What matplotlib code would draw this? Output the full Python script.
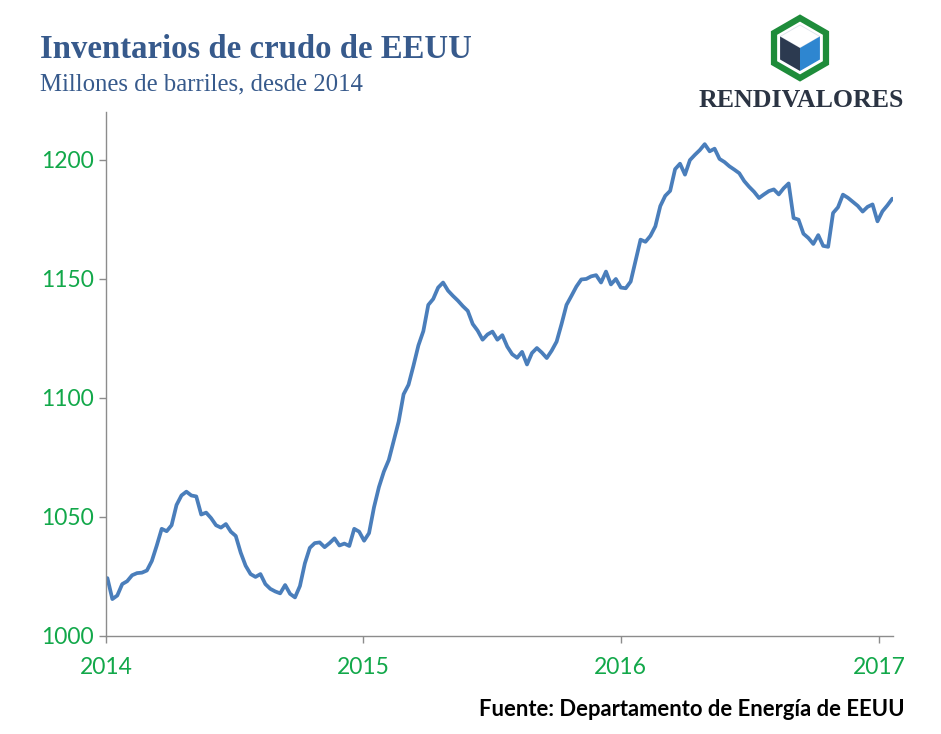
import matplotlib
matplotlib.use("Agg")
import matplotlib.pyplot as plt
from matplotlib.patches import Polygon, RegularPolygon
import numpy as np
import pandas as pd

# Weekly US crude oil inventories (million barrels)
start_date = "2014-01-03"
inventories = [
    1024.3, 1015.5, 1017.0, 1021.8, 1023.0, 1025.5, 1026.4, 1026.6, 1027.5, 1031.5,
    1038.0, 1045.0, 1044.0, 1046.5, 1055.0, 1059.0, 1060.6, 1059.0, 1058.6, 1051.0,
    1051.8, 1049.5, 1046.5, 1045.5, 1047.0, 1043.8, 1042.0, 1035.0, 1029.5, 1026.0,
    1024.8, 1026.0, 1021.8, 1019.8, 1018.7, 1017.9, 1021.4, 1017.7, 1016.2, 1021.0,
    1030.5, 1037.0, 1039.0, 1039.3, 1037.3, 1039.0, 1041.0, 1038.0, 1038.8, 1037.8,
    1045.0, 1043.8, 1040.0, 1043.2, 1054.0, 1062.5, 1069.0, 1073.9, 1082.0, 1090.0,
    1101.5, 1105.5, 1113.5, 1122.0, 1128.0, 1139.0, 1141.5, 1146.3, 1148.4, 1145.0,
    1142.8, 1140.8, 1138.5, 1136.5, 1131.0, 1128.2, 1124.4, 1126.6, 1127.8, 1124.4,
    1126.3, 1121.5, 1118.3, 1116.8, 1119.3, 1114.0, 1118.8, 1120.9, 1119.0, 1116.7,
    1119.8, 1123.6, 1131.0, 1139.0, 1142.8, 1146.7, 1149.7, 1149.9, 1151.0, 1151.5,
    1148.4, 1153.0, 1147.6, 1149.9, 1146.3, 1146.0, 1148.8, 1157.5, 1166.4, 1165.5,
    1168.0, 1172.0, 1180.5, 1184.8, 1186.9, 1196.0, 1198.3, 1193.7, 1199.8, 1202.0,
    1204.0, 1206.5, 1203.5, 1204.6, 1200.3, 1199.0, 1197.2, 1195.8, 1194.3, 1191.0,
    1188.6, 1186.5, 1183.9, 1185.4, 1186.8, 1187.5, 1185.4, 1188.0, 1190.0, 1175.5,
    1174.8, 1168.9, 1167.1, 1164.6, 1168.3, 1163.8, 1163.4, 1177.6, 1180.0, 1185.3,
    1184.0, 1182.3, 1180.6, 1178.2, 1180.2, 1181.2, 1174.1, 1178.3, 1180.8, 1183.6,
]
y_ticks = [1000, 1050, 1100, 1150, 1200]
x_ticks = ["2014", "2015", "2016", "2017"]

title = "Inventarios de crudo de EEUU"
subtitle = "Millones de barriles, desde 2014"
source = "Fuente: Departamento de Energía de EEUU"
brand = "RENDIVALORES"

dates = pd.date_range(start_date, periods=len(inventories), freq="7D")

W, H = 941, 734
fig = plt.figure(figsize=(W / 100, H / 100), dpi=100)
fig.patch.set_facecolor("white")

# main axes in pixel layout
left, right, top, bottom = 106, 893, 112, 636
ax = fig.add_axes([left / W, 1 - bottom / H, (right - left) / W, (bottom - top) / H])
ax.plot(dates, inventories, color="#4A7EBB", linewidth=2.7,
        solid_joinstyle="round", solid_capstyle="round")

ax.set_ylim(1000, 1220)
ax.set_xlim(pd.Timestamp("2014-01-01"), dates[-1] + pd.Timedelta(days=1))
ax.set_yticks(y_ticks)
ax.set_xticks([pd.Timestamp(y + "-01-01") for y in x_ticks])
ax.set_xticklabels(x_ticks)

for side in ["top", "right"]:
    ax.spines[side].set_visible(False)
for side in ["left", "bottom"]:
    ax.spines[side].set_color("#8C8C8C")
    ax.spines[side].set_linewidth(1.0)

green = "#12A84A"
ax.tick_params(axis="both", colors="#8C8C8C", length=5, width=1.0, direction="out")
ax.tick_params(axis="y", pad=4)
ax.tick_params(axis="x", pad=10)
for lab in ax.get_xticklabels() + ax.get_yticklabels():
    lab.set_color(green)
    lab.set_fontfamily("Lato")
    lab.set_fontsize(16.5)

# overlay in pixel coords for texts and logo
ov = fig.add_axes([0, 0, 1, 1])
ov.set_xlim(0, W)
ov.set_ylim(H, 0)
ov.axis("off")
ov.patch.set_alpha(0)

ov.text(40, 58, title, fontsize=23.6, fontweight="bold", color="#375A8C",
        family="Liberation Serif", va="baseline", ha="left")
ov.text(40, 90, subtitle, fontsize=17.8, color="#375A8C",
        family="Liberation Serif", va="baseline", ha="left")
ov.text(905, 716, source, fontsize=15.8, fontweight="bold", color="black",
        family="Lato", va="baseline", ha="right")
ov.text(801, 107, brand, fontsize=18.6, fontweight="bold", color="#2B3443",
        family="Liberation Serif", va="baseline", ha="center")

# logo: green hexagon with a cube inside
cx, cy = 800, 48
ov.add_patch(RegularPolygon((cx, cy), numVertices=6, radius=30, orientation=0,
                            facecolor="white", edgecolor="#1E8C3A", linewidth=4.5))
r = 23
s = r * np.sqrt(3) / 2
topv = (cx, cy - r)
ul, ur = (cx - s, cy - r / 2), (cx + s, cy - r / 2)
ll, lr = (cx - s, cy + r / 2), (cx + s, cy + r / 2)
bot = (cx, cy + r)
mid = (cx, cy)
ov.add_patch(Polygon([topv, ur, mid, ul], closed=True, facecolor="white",
                     edgecolor="#DDE3EA", linewidth=0.6))
ov.add_patch(Polygon([ul, mid, bot, ll], closed=True, facecolor="#2C3A50", edgecolor="none"))
ov.add_patch(Polygon([mid, ur, lr, bot], closed=True, facecolor="#2E86D0", edgecolor="none"))

fig.savefig("out.png", dpi=100)
